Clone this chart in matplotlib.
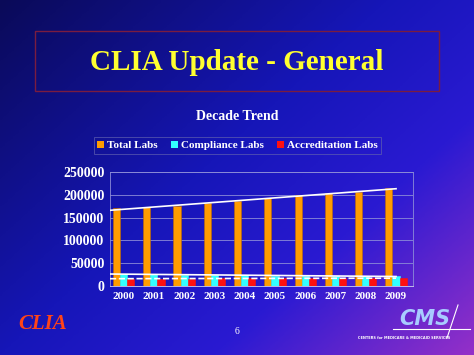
import matplotlib.pyplot as plt
import numpy as np
from matplotlib.colors import LinearSegmentedColormap
from matplotlib.patches import Rectangle, Patch

plt.rcParams["font.family"] = ["Liberation Serif", "DejaVu Serif"]

years = ["2000", "2001", "2002", "2003", "2004",
         "2005", "2006", "2007", "2008", "2009"]
total_labs = [171000, 173500, 176000, 182500, 187500,
              193000, 198500, 203500, 207000, 215500]
compliance_labs = [26500, 25500, 24500, 24000, 23500,
                   23000, 22500, 22000, 21500, 21000]
accreditation_labs = [16000, 16200, 16300, 16500, 16600,
                      16700, 16800, 16900, 17000, 17200]
series_names = ["Total Labs", "Compliance Labs", "Accreditation Labs"]
series_colors = ["#ff9c00", "#33ffff", "#ff1010"]

fig = plt.figure(figsize=(4.74, 3.55), dpi=100)

# background gradient, dark navy top-left to purple bottom-right
bg = fig.add_axes([0, 0, 1, 1])
bg.set_axis_off()
gx, gy = np.meshgrid(np.linspace(0, 1, 300), np.linspace(0, 1, 300))
t = np.clip(0.55 * gx + 0.45 * gy, 0, 1)
cmap = LinearSegmentedColormap.from_list(
    "slide", [(0, "#0a0a58"), (0.45, "#1616b8"), (0.7, "#2a1ad2"), (1, "#9430c8")])
bg.imshow(t, cmap=cmap, extent=[0, 1, 0, 1], aspect="auto", origin="upper")
bg.set_xlim(0, 1)
bg.set_ylim(0, 1)

# title box
bg.add_patch(Rectangle((35 / 474, 1 - 91 / 355), 404 / 474, 60 / 355,
                       fill=False, edgecolor="#7a1c40", lw=1.0))
bg.text(0.5, 1 - 62 / 355, "CLIA Update - General", color="#ffff30",
        fontsize=21, fontweight="bold", ha="center", va="center")
bg.text(0.5, 1 - 117 / 355, "Decade Trend", color="white",
        fontsize=10, fontweight="bold", ha="center", va="center")

# footer
bg.text(18 / 474, 1 - 324 / 355, "CLIA", color="#ff4418", fontsize=15,
        fontweight="bold", fontstyle="italic", ha="left", va="center")
bg.text(0.5, 1 - 332 / 355, "6", color="white", fontsize=7,
        ha="center", va="center")
bg.text(425 / 474, 1 - 319 / 355, "CMS", color="#a8ccff", fontsize=15,
        fontweight="bold", fontstyle="italic", family="DejaVu Sans",
        ha="center", va="center")
bg.plot([393 / 474, 470 / 474], [1 - 329 / 355, 1 - 329 / 355],
        color="white", lw=0.8)
bg.plot([458 / 474, 447 / 474], [1 - 305 / 355, 1 - 338 / 355],
        color="white", lw=0.8)
bg.text(404 / 474, 1 - 338 / 355, "CENTERS for MEDICARE & MEDICAID SERVICES",
        color="white", fontsize=2.5, fontweight="bold", family="DejaVu Sans",
        ha="center", va="center")

# chart
ax = fig.add_axes([110 / 474, 1 - 286 / 355, 303 / 474, 114 / 355])
ax.set_facecolor("none")
x = np.arange(len(years))
w = 0.235
for k, (vals, col) in enumerate(zip([total_labs, compliance_labs, accreditation_labs],
                                    series_colors)):
    ax.bar(x + (k - 1) * w, vals, w, color=col, edgecolor="#c06a00" if k == 0 else col,
           lw=0.4, zorder=3)

xlo, xhi = -0.45, 9.56
# linear trend lines
xs = np.array([xlo, x[-1]])
for vals, ls in [(total_labs, "-"), (compliance_labs, "-"), (accreditation_labs, "--")]:
    c = np.polyfit(x, vals, 1)
    ax.plot(xs, np.polyval(c, xs), color="white", lw=1.2, ls=ls, zorder=4)

ax.set_xlim(xlo, xhi)
ax.set_ylim(0, 250000)
ax.set_yticks(np.arange(0, 250001, 50000))
ax.set_xticks(x)
ax.set_xticklabels(years)
ax.grid(axis="y", color="#8c8cd8", lw=0.6, zorder=0)
for s in ax.spines.values():
    s.set_color("#8c8cd8")
    s.set_linewidth(0.6)
ax.spines["bottom"].set_color("#d0d0f0")
ax.tick_params(colors="white", length=0, pad=4)
for lab in ax.get_yticklabels():
    lab.set_fontsize(10)
    lab.set_fontweight("bold")
for lab in ax.get_xticklabels():
    lab.set_fontsize(8)
    lab.set_fontweight("bold")

handles = [Patch(facecolor=c, edgecolor="none") for c in series_colors]
leg = fig.legend(handles, series_names, ncol=3, loc="center",
                 bbox_to_anchor=(237.5 / 474, 1 - 145.5 / 355), frameon=True,
                 fancybox=False, edgecolor="#6060b0", facecolor="none",
                 fontsize=8, handlelength=0.6, handleheight=0.6,
                 handletextpad=0.3, columnspacing=1.2, borderpad=0.3)
for txt in leg.get_texts():
    txt.set_color("white")
    txt.set_fontweight("bold")
leg.get_frame().set_linewidth(0.6)

fig.savefig("out.png", dpi=100)
